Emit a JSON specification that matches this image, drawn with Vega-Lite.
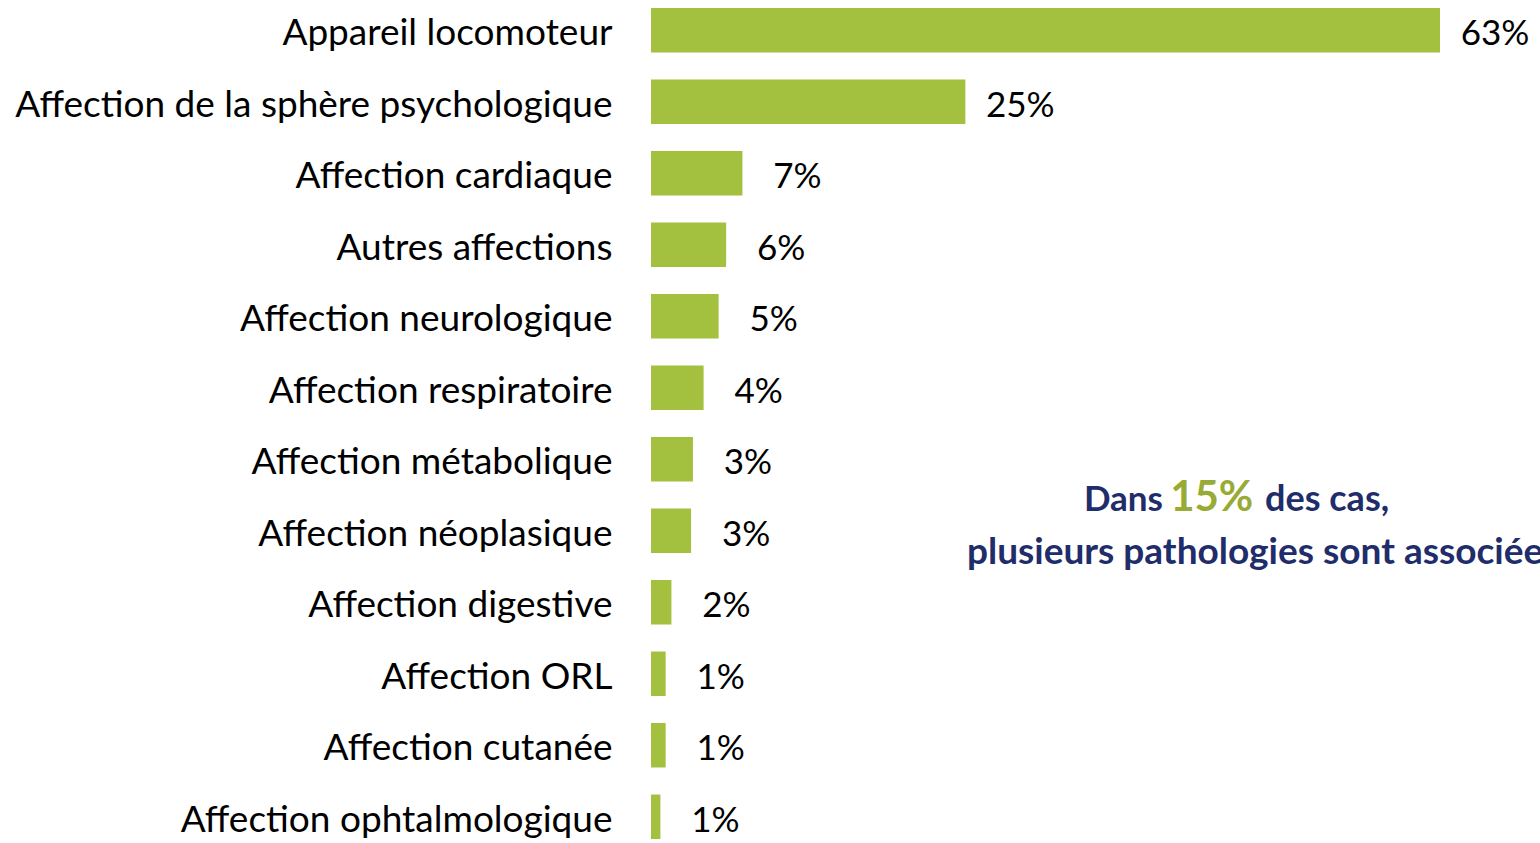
{
  "$schema": "https://vega.github.io/schema/vega-lite/v6.json",
  "autosize": {"type": "none"},
  "padding": {"left": 651, "top": 8, "right": 100, "bottom": 4},
  "width": 789,
  "height": 831,
  "background": "white",
  "config": {"view": {"stroke": null}, "font": "Lato"},
  "datasets": {
    "bars": [
      {"categorie": "Appareil locomoteur", "valeur": 63, "etiquette": "63%"},
      {"categorie": "Affection de la sphère psychologique", "valeur": 25.1, "etiquette": "25%"},
      {"categorie": "Affection cardiaque", "valeur": 7.3, "etiquette": "7%"},
      {"categorie": "Autres affections", "valeur": 6.0, "etiquette": "6%"},
      {"categorie": "Affection neurologique", "valeur": 5.4, "etiquette": "5%"},
      {"categorie": "Affection respiratoire", "valeur": 4.2, "etiquette": "4%"},
      {"categorie": "Affection métabolique", "valeur": 3.35, "etiquette": "3%"},
      {"categorie": "Affection néoplasique", "valeur": 3.2, "etiquette": "3%"},
      {"categorie": "Affection digestive", "valeur": 1.63, "etiquette": "2%"},
      {"categorie": "Affection ORL", "valeur": 1.17, "etiquette": "1%"},
      {"categorie": "Affection cutanée", "valeur": 1.17, "etiquette": "1%"},
      {"categorie": "Affection ophtalmologique", "valeur": 0.75, "etiquette": "1%"}
    ],
    "annot": [
      {"categorie": "Affection métabolique", "ligne": 1, "valeur": 40.88, "txt": "Dans"},
      {"categorie": "Affection métabolique", "ligne": 1, "valeur": 44.77, "txt": "15%"},
      {"categorie": "Affection métabolique", "ligne": 1, "valeur": 49.03, "txt": "des cas,"},
      {"categorie": "Affection néoplasique", "ligne": 2, "valeur": 25.23, "txt": "plusieurs pathologies sont associées"}
    ]
  },
  "encoding": {
    "y": {
      "field": "categorie",
      "type": "nominal",
      "sort": null,
      "scale": {"paddingInner": 0.378, "paddingOuter": 0},
      "axis": {
        "title": null,
        "domain": false,
        "ticks": false,
        "labelFont": "Lato",
        "labelFontSize": 37,
        "labelColor": "#000000",
        "labelPadding": 39,
        "labelOffset": 4,
        "labelLimit": 700
      }
    },
    "x": {
      "field": "valeur",
      "type": "quantitative",
      "scale": {"domain": [0, 63], "nice": false, "zero": true},
      "axis": null
    }
  },
  "layer": [
    {
      "data": {"name": "bars"},
      "mark": {"type": "bar", "color": "#a4c03f"}
    },
    {
      "data": {"name": "bars"},
      "mark": {"type": "text", "align": "center", "baseline": "middle", "dx": 55, "dy": 4, "fontSize": 35, "font": "Lato", "color": "#000000"},
      "encoding": {"text": {"field": "etiquette"}}
    },
    {
      "data": {"name": "annot"},
      "transform": [{"filter": "datum.txt == 'Dans'"}],
      "mark": {"type": "text", "align": "right", "baseline": "alphabetic", "dy": 52, "fontWeight": "bold", "font": "Lato", "fontSize": 35, "color": "#1f2d6b"},
      "encoding": {"text": {"field": "txt"}}
    },
    {
      "data": {"name": "annot"},
      "transform": [{"filter": "datum.txt == '15%'"}],
      "mark": {"type": "text", "align": "center", "baseline": "alphabetic", "dy": 52, "fontWeight": "bold", "font": "Lato", "fontSize": 42, "color": "#97ab36"},
      "encoding": {"text": {"field": "txt"}}
    },
    {
      "data": {"name": "annot"},
      "transform": [{"filter": "datum.txt == 'des cas,'"}],
      "mark": {"type": "text", "align": "left", "baseline": "alphabetic", "dy": 52, "fontWeight": "bold", "font": "Lato", "fontSize": 36, "color": "#1f2d6b"},
      "encoding": {"text": {"field": "txt"}}
    },
    {
      "data": {"name": "annot"},
      "transform": [{"filter": "datum.ligne == 2"}],
      "mark": {"type": "text", "align": "left", "baseline": "alphabetic", "dy": 33, "fontWeight": "bold", "font": "Lato", "fontSize": 37, "color": "#1f2d6b"},
      "encoding": {"text": {"field": "txt"}}
    }
  ]
}
